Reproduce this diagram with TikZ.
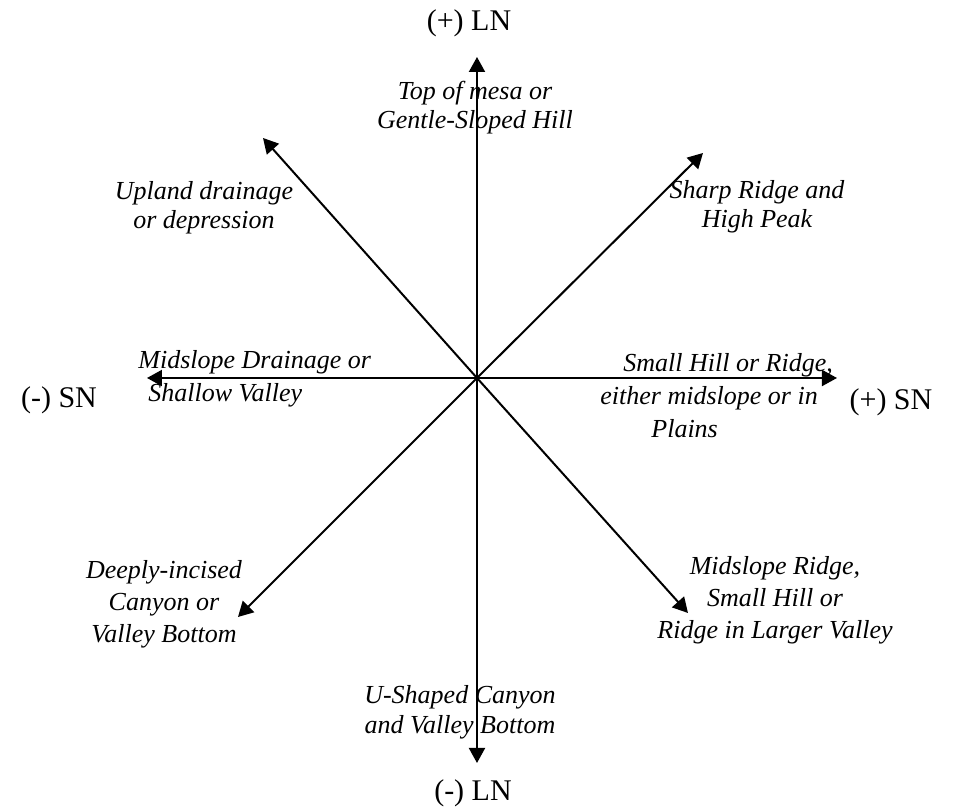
\documentclass[tikz,border=0pt]{standalone}
\usepackage{fontspec}
\setmainfont{Liberation Serif}
\usepackage{tikz}
\usetikzlibrary{arrows.meta, positioning}

\tikzset{
  axis/.style={line width=1pt, -{Triangle[length=7.5pt,width=8pt]}},
  pole/.style={font=\fontsize{15}{18}\selectfont, inner sep=0pt},
  lbl/.style={font=\fontsize{13}{14.5}\selectfont\itshape, inner sep=0pt, align=center},
  widelbl/.style={font=\fontsize{13}{16.5}\selectfont\itshape, inner sep=0pt, align=left}
}

\begin{document}
\begin{tikzpicture}[x=0.5pt, y=0.5pt]
    \useasboundingbox (-477,-429) rectangle (478,378);

    % centre and arrow ends
    \coordinate (c) at (0,0);
    \coordinate (ln+) at (0,321);
    \coordinate (ln-) at (0,-385);
    \coordinate (sn-) at (-330,0);
    \coordinate (sn+) at (360,0);
    \coordinate (ne) at (226,225);
    \coordinate (nw) at (-214,240);
    \coordinate (sw) at (-239,-239);
    \coordinate (se) at (211,-235);

    % Axes
    \foreach \tip in {ln+, ln-, sn-, sn+, ne, nw, sw, se}
        \draw[axis] (c) -- (\tip);

    % Poles
    \node[pole] (lnp) at (-8,355) {(+) LN};
    \node[pole] (lnm) at (-4,-415) {(-) LN};
    \node[pole] (snm) at (-418,-22) {(-) SN};
    \node[pole] (snp) at (414,-24) {(+) SN};

    % Landform labels
    \node[lbl] (top) at (-2,270) {Top of mesa or\\Gentle-Sloped Hill};
    \node[lbl] (upland) at (-273,170) {Upland drainage\\or depression};
    \node[lbl] (sharp) at (280,171) {Sharp Ridge and\\High Peak};
    \node[widelbl, anchor=west] (mdrain) at (-339,-1) {Midslope Drainage or\\\hspace*{5pt}Shallow Valley};
    \node[widelbl, anchor=west] (smhill) at (123,-18) {\hspace*{11.5pt}Small Hill or Ridge,\\either midslope or in\\\hspace*{25.5pt}Plains};
    \node[lbl, font=\fontsize{13}{16}\selectfont\itshape] (deep) at (-313,-226) {Deeply-incised\\Canyon or\\Valley Bottom};
    \node[lbl, font=\fontsize{13}{16}\selectfont\itshape] (mridge) at (298,-222) {Midslope Ridge,\\Small Hill or\\Ridge in Larger Valley};
    \node[lbl, font=\fontsize{13}{15}\selectfont\itshape] (ushape) at (-17,-334) {U-Shaped Canyon\\and Valley Bottom};
\end{tikzpicture}
\end{document}
